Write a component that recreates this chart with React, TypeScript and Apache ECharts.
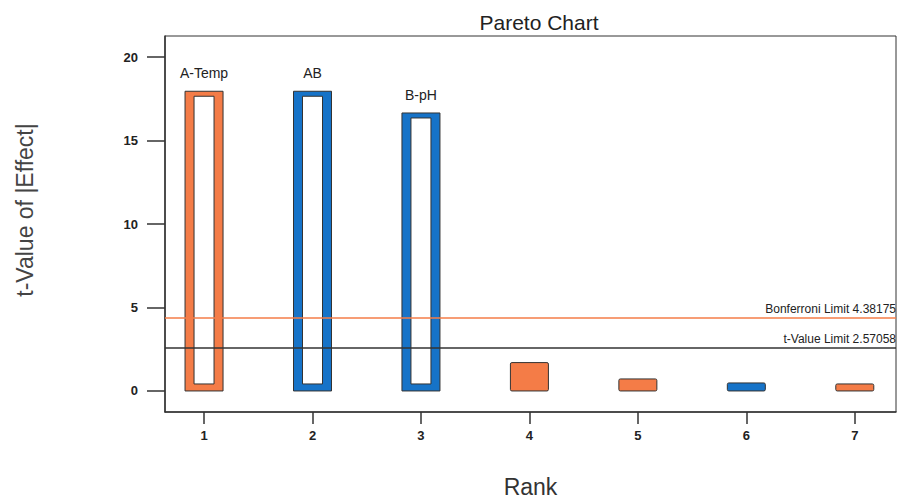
import React, { useEffect, useRef } from "react";
import * as echarts from "echarts";

const ranks = [1, 2, 3, 4, 5, 6, 7];
const termLabels = ["A-Temp", "AB", "B-pH", "", "", "", ""];
const tValues = [17.95, 17.95, 16.65, 1.7, 0.72, 0.48, 0.42];
const effectSigns = ["+", "-", "-", "+", "+", "-", "+"];
const inModel = [true, true, true, false, false, false, false];
const yTickValues = [0, 5, 10, 15, 20];
const bonferroniLimit = 4.38175;
const tValueLimit = 2.57058;

const ORANGE = "#F47C47";
const BLUE = "#1673C8";
const FONT = "Liberation Sans, Arial, sans-serif";

export default function App() {
  const ref = useRef<HTMLDivElement>(null);
  useEffect(() => {
    if (!ref.current) return;
    const chart = echarts.init(ref.current, null, { renderer: "svg" });
    const data = ranks.map((r, i) => [r, tValues[i], i]);
    chart.setOption({
      animation: false,
      backgroundColor: "#fff",
      title: {
        text: "Pareto Chart",
        left: 534,
        top: 7,
        textAlign: "center",
        textStyle: { fontFamily: FONT, fontSize: 21, fontWeight: "normal", color: "#222" },
      },
      grid: {
        left: 165,
        right: 2,
        top: 36,
        bottom: 88,
        show: true,
        borderColor: "#333",
        borderWidth: 1,
        containLabel: false,
        outerBoundsMode: "none",
      },
      xAxis: {
        type: "value",
        min: 0.64,
        max: 7.38,
        name: "Rank",
        nameLocation: "middle",
        nameGap: 63,
        nameTextStyle: { fontFamily: FONT, fontSize: 23, color: "#333" },
        splitLine: { show: false },
        axisLine: { show: true, onZero: false, lineStyle: { color: "#333", width: 1.5 } },
        axisTick: { show: true, length: 12, customValues: ranks, lineStyle: { color: "#333", width: 1.5 } },
        axisLabel: {
          customValues: ranks,
          margin: 17,
          fontFamily: FONT,
          fontSize: 13,
          fontWeight: "bold",
          color: "#222",
        },
      },
      yAxis: {
        type: "value",
        min: -1.26,
        max: 21.26,
        name: "t-Value of |Effect|",
        nameLocation: "middle",
        nameGap: 129,
        nameTextStyle: { fontFamily: FONT, fontSize: 23, color: "#444", padding: [0, 0, 0, 28] },
        splitLine: { show: false },
        axisLine: { show: true, onZero: false, lineStyle: { color: "#333", width: 1.5 } },
        axisTick: { show: true, length: 18, customValues: yTickValues, lineStyle: { color: "#333", width: 1.5 } },
        axisLabel: {
          customValues: yTickValues,
          margin: 27,
          fontFamily: FONT,
          fontSize: 13,
          fontWeight: "bold",
          color: "#222",
        },
      },
      series: [
        {
          type: "custom",
          data,
          renderItem: (params: any, api: any) => {
            const x = api.value(0);
            const v = api.value(1);
            const idx = api.value(2);
            const top = api.coord([x, v]);
            const base = api.coord([x, 0]);
            const w = 38;
            const color = effectSigns[idx] === "+" ? ORANGE : BLUE;
            const left = top[0] - w / 2;
            const h = base[1] - top[1];
            const children: any[] = [
              {
                type: "rect",
                shape: { x: left, y: top[1], width: w, height: h, r: inModel[idx] ? 0 : 1.5 },
                style: { fill: color, stroke: "#333", lineWidth: 1 },
              },
            ];
            if (inModel[idx]) {
              children.push({
                type: "rect",
                shape: { x: left + 9, y: top[1] + 5, width: w - 18, height: h - 12 },
                style: { fill: "#fff", stroke: "#333", lineWidth: 1 },
              });
            }
            if (termLabels[idx]) {
              children.push({
                type: "text",
                style: {
                  text: termLabels[idx],
                  x: top[0],
                  y: top[1] - 11,
                  align: "center",
                  verticalAlign: "bottom",
                  fill: "#222",
                  font: `14px ${FONT}`,
                },
              });
            }
            return { type: "group", children };
          },
          z: 3,
        },
        {
          type: "scatter",
          data: [],
          z: 2,
          markLine: {
            silent: true,
            symbol: ["none", "none"],
            data: [
              {
                yAxis: bonferroniLimit,
                lineStyle: { color: ORANGE, width: 1.5, type: "solid" },
                label: {
                  show: true,
                  position: "insideEndTop",
                  formatter: `Bonferroni Limit ${bonferroniLimit}`,
                  fontFamily: FONT,
                  fontSize: 12,
                  color: "#222",
                  distance: [0, 3],
                },
              },
              {
                yAxis: tValueLimit,
                lineStyle: { color: "#333", width: 1.5, type: "solid" },
                label: {
                  show: true,
                  position: "insideEndTop",
                  formatter: `t-Value Limit ${tValueLimit}`,
                  fontFamily: FONT,
                  fontSize: 12,
                  color: "#222",
                  distance: [0, 3],
                },
              },
            ],
          },
        },
      ],
    });
    return () => chart.dispose();
  }, []);
  return <div ref={ref} style={{ width: 898, height: 500, position: "absolute", left: 0, top: 0 }} />;
}
